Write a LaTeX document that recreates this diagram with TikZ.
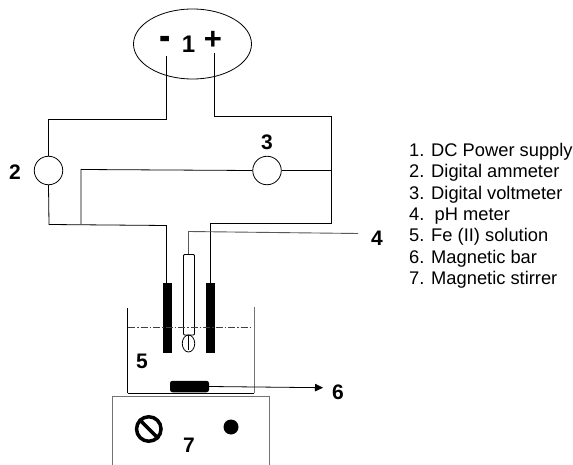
\documentclass[tikz,border=0pt]{standalone}
\usepackage{fontspec}
\usepackage{graphicx}
\setmainfont{Liberation Sans}
\usetikzlibrary{arrows.meta,shapes.geometric}
\tikzset{
 wire/.style={draw=black,line width=0.8pt},
 gwire/.style={draw=black!65,line width=0.9pt},
 meter/.style={circle,draw=black,line width=0.8pt,minimum size=28.5pt,inner sep=0pt,fill=white},
 num/.style={font=\bfseries\fontsize{21}{21}\selectfont,inner sep=0pt,anchor=center},
 legend/.style={font=\fontsize{18.3}{18.3}\selectfont,inner sep=0pt,anchor=base west},
 electrode/.style={fill=black,draw=none,minimum width=9pt,minimum height=70pt,inner sep=0pt},
}
\begin{document}
\begin{tikzpicture}[x=1pt,y=-1pt]
\useasboundingbox (0,0) rectangle (573,465);
\fill[white] (0,0) rectangle (573,465);
% power supply
\node[ellipse,draw=black,line width=0.8pt,minimum width=118pt,minimum height=70pt,inner sep=0pt] (ps) at (192.5,44) {};
\node[num,font=\bfseries\fontsize{34}{34}\selectfont] (minus) at (165.5,43) {\scalebox{1}[1.3]{-}};
\node[num,font=\bfseries\fontsize{24}{24}\selectfont] (one) at (188.5,44) {1};
\node[num,font=\bfseries\fontsize{31}{31}\selectfont] (plus) at (212.8,40) {+};
\coordinate (negt) at (166.5,56);
\coordinate (post) at (214,53);
% meters
\node[meter] (am) at (48.5,170.5) {};
\node[meter] (vm) at (267,170.5) {};
\node[num] (two) at (15,172) {2};
\node[num] (three) at (267,142) {3};
% electrodes
\node[electrode] (el) at (167.5,318) {};
\node[electrode] (er) at (210,317.5) {};
% wiring
\draw[wire] (negt) -- (166.5,119.5) -- (48.5,119.5) -- (am.north);
\draw[wire] (am.south) -- (49,224.5) -- (166.5,225.5) -- (166.5,283);
\draw[wire] (post) -- (214,116.5) -- (331.5,116.5) -- (331.5,223.5) -- (210.5,223.5) -- (210.5,283);
\draw[wire] (vm.west) -- (81,169.5) -- (81,224);
\draw[wire] (vm.east) -- (330.5,170.5);
% pH probe
\node[num] (four) at (377,238) {4};
\coordinate (phend) at (358,233.5);
\draw[gwire] (phend) -- (188.5,231.5) -- (188.5,254);
\draw[wire,rounded corners=1pt] (183.5,254.5) rectangle (194.5,335);
\node[ellipse,draw=black,line width=0.8pt,minimum width=12.5pt,minimum height=17pt,inner sep=0pt] (bulb) at (188.5,343.5) {};
\draw[wire] (188.5,335) -- (188.5,350);
% beaker
\draw[line width=0.8pt,black] (127.5,308) -- (127.5,393);
\draw[line width=0.9pt,black!55] (254,307) -- (254,393);
\draw[line width=0.8pt,black] (127.5,393) -- (254,393);
\draw[line width=0.7pt,black!75,dash pattern=on 7pt off 2pt on 1.5pt off 2pt] (128,327) -- (252,327);
\node[num] (five) at (142,361) {5};
% magnetic bar
\node[fill=black,rounded corners=2.5pt,minimum width=39pt,minimum height=11.5pt,inner sep=0pt] (bar) at (189.5,386.5) {};
\node[num] (six) at (338,392) {6};
\draw[wire,-{Triangle[length=8pt,width=7.5pt]}] (bar.east) -- (323,387.7);
% stirrer
\draw[line width=0.9pt,black!55] (112,465) -- (112,396) -- (269,396) -- (269,465);
\node[circle,draw=black,line width=3.5pt,minimum size=24.5pt,inner sep=0pt] (knob) at (148.8,429) {};
\draw[line width=3.5pt,black] (knob.north west) -- (knob.south east);
\node[circle,fill=black,minimum size=15pt,inner sep=0pt] (dot) at (231,427) {};
\node[num] (seven) at (189,445) {7};
% legend
\node[legend] (l1) at (409,156.7) {1. DC Power supply};
\node[legend] (l2) at (409,178) {2. Digital ammeter};
\node[legend] (l3) at (409,199.5) {3. Digital voltmeter};
\node[legend] (l4) at (409,221) {4.\ \ pH meter};
\node[legend] (l5) at (409,242) {5. Fe (II) solution};
\node[legend] (l6) at (409,263) {6. Magnetic bar};
\node[legend] (l7) at (409,284) {7. Magnetic stirrer};
\end{tikzpicture}
\end{document}
